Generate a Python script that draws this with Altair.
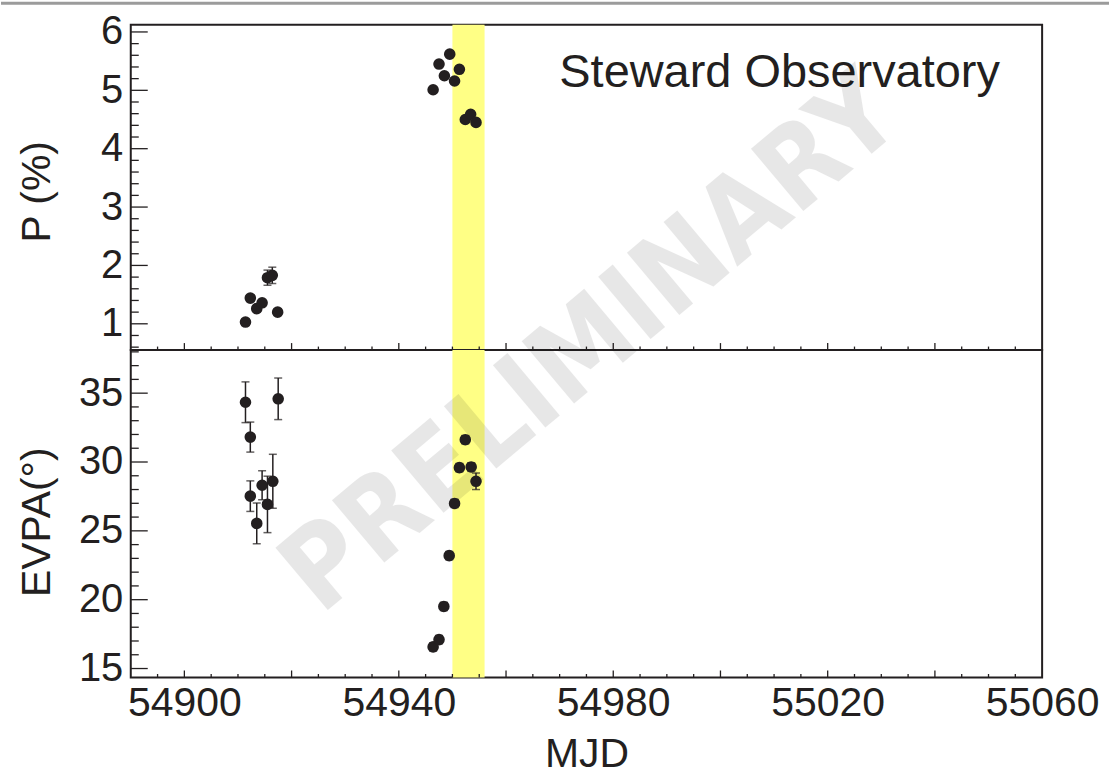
import altair as alt
import pandas as pd

# Optical polarization from Steward Observatory: degree (P) and angle (EVPA)
mjd_p = [54911.4, 54912.3, 54913.5, 54914.5, 54915.5, 54916.4, 54917.4,
         54946.4, 54947.5, 54948.5, 54949.5, 54950.4, 54951.3, 54952.4, 54953.4, 54954.4]
pol = [1.03, 1.44, 1.26, 1.36, 1.79, 1.83, 1.20,
       5.01, 5.45, 5.25, 5.62, 5.16, 5.36, 4.50, 4.59, 4.45]
pol_err = [0.05, 0.05, 0.05, 0.05, 0.13, 0.14, 0.05,
           0.04, 0.04, 0.04, 0.04, 0.04, 0.04, 0.04, 0.04, 0.04]

mjd_evpa = [54911.4, 54912.3, 54912.3, 54913.5, 54914.5, 54915.5, 54916.5, 54917.5,
            54946.4, 54947.5, 54948.4, 54949.4, 54950.4, 54951.3, 54952.4, 54953.5, 54954.4]
evpa = [34.34, 31.81, 27.52, 25.54, 28.31, 26.92, 28.60, 34.59,
        16.57, 17.10, 19.51, 23.20, 26.99, 29.59, 31.62, 29.64, 28.60]
evpa_err = [1.48, 1.09, 1.11, 1.48, 1.06, 2.05, 1.96, 1.51,
            0.30, 0.30, 0.30, 0.30, 0.30, 0.30, 0.30, 0.30, 0.60]

# highlighted time window
flare_start = [54950.0]
flare_end = [54956.0]

x_domain = [54890, 55060]
p_domain = [0.55, 6.125]
evpa_domain = [14.35, 38.13]

x_labels = [54900, 54940, 54980, 55020, 55060]
p_labels = [1, 2, 3, 4, 5, 6]
evpa_labels = [15, 20, 25, 30, 35]

x_major = [v for v in range(54900, 55060, 20)]
x_minor = [v for v in range(54895, 55060, 5) if v % 20 != 0]
p_major = p_labels
p_minor = [round(0.6 + 0.2 * i, 1) for i in range(27) if round(0.6 + 0.2 * i, 1) % 1 != 0]
evpa_major = evpa_labels
evpa_minor = [v for v in range(15, 39) if v % 5 != 0]

W = 913
H_TOP = 326
H_BOT = 328
INK = "#231f20"
FONT = "Liberation Sans"
BAND = "#ffff85"

xs = alt.Scale(domain=x_domain, nice=False, zero=False)
ps = alt.Scale(domain=p_domain, nice=False, zero=False)
es = alt.Scale(domain=evpa_domain, nice=False, zero=False)

p_axis = alt.Axis(
    values=p_labels, format="d", ticks=False, tickSize=0, domain=False, grid=False,
    labelFontSize=40, labelPadding=8, title="P (%)", titleFontSize=41,
    titleFontWeight="normal", titleAngle=270, titleX=-93, titleY=167,
    titleAlign="center", titleBaseline="middle",
)
evpa_axis = alt.Axis(
    values=evpa_labels, format="d", ticks=False, tickSize=0, domain=False, grid=False,
    labelFontSize=40, labelPadding=8, title="EVPA(°)", titleFontSize=41,
    titleFontWeight="normal", titleAngle=270, titleX=-93, titleY=172,
    titleAlign="center", titleBaseline="middle",
)
mjd_axis = alt.Axis(
    values=x_labels, format="d", ticks=False, tickSize=0, domain=False, grid=False,
    labelFontSize=41, labelPadding=6, labelFlush=False, labelOverlap=False,
    title="MJD", titleFontSize=41, titleFontWeight="normal",
    titleY=89, titleBaseline="alphabetic",
)


def x_ticks(values, length, height, x_axis):
    return alt.Chart(pd.DataFrame({"t": values})).mark_rule(
        color=INK, strokeWidth=1.3
    ).encode(
        x=alt.X("t:Q", scale=xs, axis=x_axis),
        y=alt.value(height),
        y2=alt.value(height - length),
    )


def y_ticks(values, length, scale, y_axis):
    return alt.Chart(pd.DataFrame({"v": values})).mark_rule(
        color=INK, strokeWidth=1.3
    ).encode(
        y=alt.Y("v:Q", scale=scale, axis=y_axis),
        x=alt.value(0),
        x2=alt.value(length),
    )


def band(height, x_axis):
    return alt.Chart(pd.DataFrame({"start": flare_start, "end": flare_end})).mark_rect(
        color=BAND
    ).encode(
        x=alt.X("start:Q", scale=xs, axis=x_axis),
        x2="end:Q",
        y=alt.value(0),
        y2=alt.value(height),
    )


def series(mjd, val, err, scale, x_axis, y_axis):
    df = pd.DataFrame({
        "mjd": mjd,
        "val": val,
        "lo": [v - e for v, e in zip(val, err)],
        "hi": [v + e for v, e in zip(val, err)],
    })
    base = alt.Chart(df)
    bars = base.mark_rule(color=INK, strokeWidth=1.5).encode(
        x=alt.X("mjd:Q", scale=xs, axis=x_axis),
        y=alt.Y("lo:Q", scale=scale, axis=y_axis),
        y2="hi:Q",
    )
    cap_lo = base.mark_tick(orient="horizontal", size=8, thickness=1.5, color=INK).encode(
        x=alt.X("mjd:Q", scale=xs, axis=x_axis),
        y=alt.Y("lo:Q", scale=scale, axis=y_axis),
    )
    cap_hi = base.mark_tick(orient="horizontal", size=8, thickness=1.5, color=INK).encode(
        x=alt.X("mjd:Q", scale=xs, axis=x_axis),
        y=alt.Y("hi:Q", scale=scale, axis=y_axis),
    )
    dots = base.mark_circle(size=135, color=INK, opacity=1).encode(
        x=alt.X("mjd:Q", scale=xs, axis=x_axis),
        y=alt.Y("val:Q", scale=scale, axis=y_axis),
    )
    return [bars, cap_lo, cap_hi, dots]


observatory = alt.Chart(pd.DataFrame({"s": ["Steward Observatory"]})).mark_text(
    font=FONT, fontSize=47, color=INK, align="center", baseline="alphabetic"
).encode(text="s:N", x=alt.value(650), y=alt.value(62))

top_strip = alt.Chart(pd.DataFrame({"s": [0]})).mark_rect(color="#9b9b9b").encode(
    x=alt.value(-130), x2=alt.value(980), y=alt.value(-23), y2=alt.value(-20)
)

watermark = alt.Chart(pd.DataFrame({"s": ["PRELIMINARY"]})).mark_text(
    font="Liberation Sans Narrow, DejaVu Sans Condensed, Liberation Sans, sans-serif",
    fontWeight="bold", fontSize=112, angle=320,
    color="#000000", opacity=0.09, align="center", baseline="middle"
).encode(text="s:N", x=alt.value(462), y=alt.value(-6))

top = alt.layer(
    band(H_TOP, None),
    x_ticks(x_major, 7, H_TOP, None),
    x_ticks(x_minor, 3.5, H_TOP, None),
    y_ticks(p_major, 17, ps, p_axis),
    y_ticks(p_minor, 8, ps, p_axis),
    *series(mjd_p, pol, pol_err, ps, None, p_axis),
    observatory,
    top_strip,
).properties(width=W, height=H_TOP)

bottom = alt.layer(
    band(H_BOT, mjd_axis),
    watermark,
    x_ticks(x_major, 7, H_BOT, mjd_axis),
    x_ticks(x_minor, 3.5, H_BOT, mjd_axis),
    y_ticks(evpa_major, 17, es, evpa_axis),
    y_ticks(evpa_minor, 8, es, evpa_axis),
    *series(mjd_evpa, evpa, evpa_err, es, mjd_axis, evpa_axis),
).properties(width=W, height=H_BOT)

chart = alt.vconcat(top, bottom, spacing=0, bounds="flush").properties(
    padding=0, background="white"
).configure_view(
    stroke=INK, strokeWidth=2
).configure_axis(
    labelFont=FONT, titleFont=FONT, labelColor=INK, titleColor=INK
)

chart.save("out.html", embed_options={"renderer": "svg", "actions": False})
